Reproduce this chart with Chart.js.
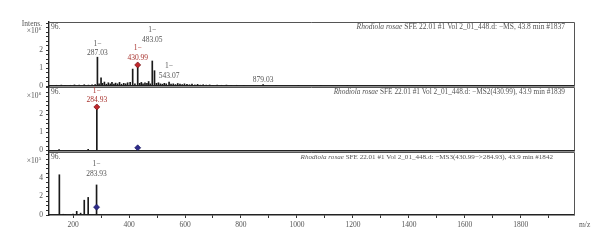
<!DOCTYPE html>
<html><head><meta charset="utf-8">
<script src="https://cdn.jsdelivr.net/npm/chart.js@4.4.1/dist/chart.umd.min.js"></script>
<style>
html,body{margin:0;padding:0;background:#fff;}
#wrap{position:relative;width:600px;height:249px;}
#wrap canvas{position:absolute;left:0;top:0;}
</style></head><body>
<div id="wrap">
<canvas id="c1" width="600" height="249"></canvas>
<canvas id="c2" width="600" height="249"></canvas>
<canvas id="c3" width="600" height="249"></canvas>
</div>
<script>
// ---------------- data ----------------
// Panel 1: full MS (intensity x10^6)
const ms1Mz  = [120,140,158,172,190,205,222,240,255,268,279,287.03,293,300,305,312,319,326,333,339,346,352,359,366,373,381,388,395,404,413,421,430.99,438,444,450,457,464,470,476,483.05,491,498,505,512,519,526,533,543.07,550,558,566,574,582,590,598,607,616,625,635,645,655,665,676,688,700,715,730,748,765,785,810,879.03,925,1005,1085,1180];
const ms1Int = [0.03,0.04,0.05,0.03,0.04,0.06,0.05,0.07,0.05,0.06,0.08,1.6,0.12,0.45,0.15,0.22,0.1,0.18,0.12,0.2,0.1,0.16,0.12,0.2,0.1,0.15,0.12,0.18,0.2,0.94,0.12,1.17,0.15,0.2,0.12,0.18,0.15,0.25,0.12,1.39,0.85,0.15,0.18,0.12,0.1,0.15,0.12,0.22,0.1,0.12,0.08,0.14,0.1,0.08,0.12,0.09,0.07,0.1,0.06,0.09,0.05,0.07,0.05,0.06,0.04,0.05,0.04,0.05,0.03,0.04,0.03,0.08,0.03,0.02,0.03,0.02];
// Panel 2: MS2(430.99) (x10^6)
const ms2Mz  = [150,254,284.93,430.99];
const ms2Int = [0.05,0.06,2.42,0.03];
// Panel 3: MS3(430.99->284.93) (x10^5)
const ms3Mz  = [151,165,172,200,213,227,240,254,283.93];
const ms3Int = [4.35,0.08,0.06,0.1,0.4,0.2,1.6,1.9,3.25];

// diamond markers
const mark1Mz = [430.99], mark1Int = [1.17], mark1Kind = ['precursor'];
const mark2Mz = [284.93,430.99], mark2Int = [2.42,0.15], mark2Kind = ['precursor','parent'];
const mark3Mz = [283.93], mark3Int = [0.85], mark3Kind = ['parent'];

// peak annotations (anchor level in intensity units)
const lab1Mz = [287.03,430.99,483.05,543.07,879.03];
const lab1Text = ['287.03','430.99','483.05','543.07','879.03'];
const lab1Charge = ['1−','1−','1−','1−',''];
const lab1At = [1.83,1.56,2.56,0.56,0.33];
const lab2Mz = [284.93], lab2Text = ['284.93'], lab2Charge = ['1−'], lab2At = [2.8];
const lab3Mz = [283.93], lab3Text = ['283.93'], lab3Charge = ['1−'], lab3At = [4.43];
const precursor1 = 430.99, precursor2 = 284.93;

// ticks
const xTickLabels = [200,400,600,800,1000,1200,1400,1600,1800];
const yTickLabels12 = [0,1,2];
const yTickLabels3 = [0,2,4];

const titleItalic = 'Rhodiola rosae';
const title1 = ' SFE 22.01 #1 Vol 2_01_448.d: −MS, 43.8 min #1837';
const title2 = ' SFE 22.01 #1 Vol 2_01_448.d: −MS2(430.99), 43.9 min #1839';
const title3 = ' SFE 22.01 #1 Vol 2_01_448.d: −MS3(430.99−>284.93), 43.9 min #1842';

// ---------------- drawing ----------------
const FONT = '"Liberation Serif", "Times New Roman", serif';
const X_MIN = 114, X_MAX = 1990;
const RED = '#c1272d', RED_TXT = '#a8322d', BLUE = '#2d2b8a', TXT = '#555';

function range(a, b, s){ const r=[]; for(let v=a; v<=b+1e-9; v+=s) r.push(Math.round(v*100)/100); return r; }
const xMinor = range(200,1900,100);

function makePanel(id, c){
  const bars = c.mz.map((m,i)=>({x:m,y:c.int[i]}));
  const marks = c.markMz.map((m,i)=>({x:m,y:c.markInt[i]}));
  const markFill = c.markKind.map(k=>k==='precursor'?RED:BLUE);
  const markBorder = c.markKind.map(k=>k==='precursor'?'#6e0e10':'#1a1860');
  const deco = {
    id:'deco'+id,
    afterDraw(chart){
      const ctx = chart.ctx, a = chart.chartArea;
      const xs = chart.scales.x, ys = chart.scales.y;
      ctx.save();
      // frame
      ctx.strokeStyle = '#555'; ctx.lineWidth = 1;
      ctx.beginPath();
      ctx.moveTo(a.left, a.top+0.5); ctx.lineTo(a.right+0.5, a.top+0.5); ctx.lineTo(a.right+0.5, a.bottom);
      ctx.stroke();
      // "96."
      ctx.fillStyle = TXT; ctx.textBaseline = 'middle';
      ctx.font = '7.5px '+FONT; ctx.textAlign='left';
      ctx.fillText('96.', a.left+2, a.top+5);
      // title
      ctx.textAlign = 'right';
      ctx.font = c.titleSize+'px '+FONT;
      const w = ctx.measureText(c.title).width;
      ctx.fillText(c.title, c.titleRight, a.top+5);
      ctx.font = 'italic '+c.titleSize+'px '+FONT;
      ctx.fillText(titleItalic, c.titleRight - w, a.top+5);
      // axis unit
      ctx.font = '7.5px '+FONT; ctx.textAlign='right';
      if (c.intens) ctx.fillText('Intens.', 42, a.top+2.5);
      ctx.fillText('×10', 38.5, a.top+9.5);
      ctx.font = '5px '+FONT; ctx.textAlign='left';
      ctx.fillText(c.exp, 38.8, a.top+6.5);
      // peak labels
      c.labMz.forEach((m,i)=>{
        const x = xs.getPixelForValue(m), y = ys.getPixelForValue(c.labAt[i]);
        ctx.fillStyle = (m===c.precursor) ? RED_TXT : TXT;
        ctx.font = '7.5px '+FONT; ctx.textAlign='center';
        ctx.fillText(c.labText[i], x, y);
        if (c.labCharge[i]) ctx.fillText(c.labCharge[i], x, y-9.5);
      });
      if (c.mz2) {
        ctx.fillStyle = TXT; ctx.font='7.5px '+FONT; ctx.textAlign='left';
        ctx.fillText('m/z', a.right+5, 225);
      }
      ctx.restore();
    }
  };
  return new Chart(document.getElementById(id), {
    type:'bar',
    data:{datasets:[
      {type:'scatter', data:marks, pointStyle:'rectRot', pointRadius:3, pointBackgroundColor:markFill, pointBorderColor:markBorder, pointBorderWidth:0.7, order:0},
      {type:'bar', data:bars, backgroundColor:'#1a1a1a', barThickness:1, order:1}
    ]},
    options:{
      responsive:false, animation:false, devicePixelRatio:1,
      layout:{padding:{top:c.top, bottom:c.pad, left:0, right:26}},
      plugins:{legend:{display:false}, tooltip:{enabled:false}},
      scales:{
        x:{type:'linear', min:X_MIN, max:X_MAX, offset:false,
          afterBuildTicks:s=>{ s.ticks = xMinor.map(v=>({value:v})); },
          ticks:{display:c.showX, autoSkip:false, maxRotation:0, padding:3,
            callback:v=> xTickLabels.includes(v) ? String(v) : '',
            font:{family:FONT,size:7.5}, color:TXT},
          grid:{offset:false, drawOnChartArea:false, drawTicks:c.showX, tickLength:3, color:'#333'},
          border:{display:true, color:'#222', width:1.4},
          afterFit:s=>{ s.height = c.showX ? 34 : 0; }
        },
        y:{min:0, max:c.yMax,
          afterBuildTicks:s=>{ s.ticks = range(0, c.yMax, c.minor).map(v=>({value:v})); },
          ticks:{autoSkip:false, padding:3, callback:v=> c.yLabels.includes(v) ? String(v) : '',
            font:{family:FONT,size:7.5}, color:TXT},
          grid:{offset:false, drawOnChartArea:false, drawTicks:true, tickLength:3, color:'#333'},
          border:{display:true, color:'#222', width:1.4},
          afterFit:s=>{ s.width = 49; }
        }
      }
    },
    plugins:[deco]
  });
}

makePanel('c1', {mz:ms1Mz, int:ms1Int, markMz:mark1Mz, markInt:mark1Int, markKind:mark1Kind,
  labMz:lab1Mz, labText:lab1Text, labCharge:lab1Charge, labAt:lab1At, precursor:precursor1,
  top:22, pad:163, showX:false, yMax:3.556, minor:0.25, yLabels:yTickLabels12,
  title:title1, titleRight:565, titleSize:7.5, intens:true, exp:'6'});
makePanel('c2', {mz:ms2Mz, int:ms2Int, markMz:mark2Mz, markInt:mark2Int, markKind:mark2Kind,
  labMz:lab2Mz, labText:lab2Text, labCharge:lab2Charge, labAt:lab2At, precursor:precursor2,
  top:87, pad:98.5, showX:false, yMax:3.53, minor:0.25, yLabels:yTickLabels12,
  title:title2, titleRight:565, titleSize:7.3, intens:false, exp:'6'});
makePanel('c3', {mz:ms3Mz, int:ms3Int, markMz:mark3Mz, markInt:mark3Int, markKind:mark3Kind,
  labMz:lab3Mz, labText:lab3Text, labCharge:lab3Charge, labAt:lab3At, precursor:null,
  top:152, pad:0, showX:true, yMax:6.81, minor:0.5, yLabels:yTickLabels3,
  title:title3, titleRight:553, titleSize:7.1, intens:false, exp:'5', mz2:true});
</script>
</body></html>
